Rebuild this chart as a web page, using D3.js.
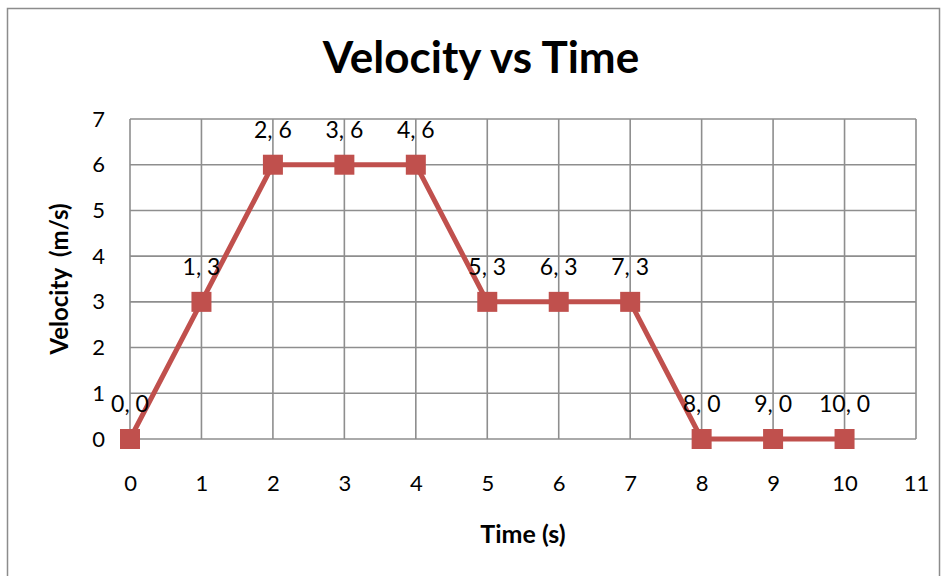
<!DOCTYPE html>
<html>
<head>
<meta charset="utf-8">
<script src="https://cdn.jsdelivr.net/npm/d3@7"></script>
<style>
  body { margin: 0; background: #fff; }
  svg { font-family: Lato, "Open Sans", sans-serif; }
</style>
</head>
<body>
<div id="chart"></div>
<script>
const timeValues = [0, 1, 2, 3, 4, 5, 6, 7, 8, 9, 10];
const velocityValues = [0, 3, 6, 6, 6, 3, 3, 3, 0, 0, 0];
const xTicks = [0, 1, 2, 3, 4, 5, 6, 7, 8, 9, 10, 11];
const yTicks = [0, 1, 2, 3, 4, 5, 6, 7];

const width = 945, height = 576;
const margin = {top: 119, right: 29, bottom: 137, left: 130};
const color = "#c0504d";

const svg = d3.select("#chart").append("svg")
    .attr("width", width)
    .attr("height", height);

// outer chart border
svg.append("rect")
    .attr("x", 7.5).attr("y", 8.5)
    .attr("width", 932).attr("height", 580)
    .attr("fill", "none")
    .attr("stroke", "#8c8c8c")
    .attr("stroke-width", 1.5);

const x = d3.scaleLinear().domain([0, 11]).range([margin.left, width - margin.right]);
const y = d3.scaleLinear().domain([0, 7]).range([height - margin.bottom, margin.top]);

// gridlines
svg.append("g")
    .attr("stroke", "#8e8e8e")
    .attr("stroke-width", 1.6)
  .selectAll("line.v")
  .data(xTicks)
  .join("line")
    .attr("x1", d => x(d)).attr("x2", d => x(d))
    .attr("y1", y(0)).attr("y2", y(7));

svg.append("g")
    .attr("stroke", "#8e8e8e")
    .attr("stroke-width", 1.6)
  .selectAll("line.h")
  .data(yTicks)
  .join("line")
    .attr("x1", x(0)).attr("x2", x(11))
    .attr("y1", d => y(d)).attr("y2", d => y(d));

// axes (tick labels only)
const xAxis = svg.append("g")
    .attr("transform", `translate(0,${y(0)})`)
    .call(d3.axisBottom(x).tickValues(xTicks).tickSize(0).tickPadding(36).tickFormat(d3.format("d")));
const yAxis = svg.append("g")
    .attr("transform", `translate(${x(0) - 25},0)`)
    .call(d3.axisLeft(y).tickValues(yTicks).tickSize(0).tickPadding(0).tickFormat(d3.format("d")));

[xAxis, yAxis].forEach(a => {
  a.select(".domain").remove();
  a.selectAll("text")
      .attr("font-family", "Lato, 'Open Sans', sans-serif")
      .attr("font-size", 22)
      .attr("fill", "#000");
});

// line
const points = timeValues.map((t, i) => ({t, v: velocityValues[i]}));

svg.append("path")
    .datum(points)
    .attr("fill", "none")
    .attr("stroke", color)
    .attr("stroke-width", 5)
    .attr("stroke-linejoin", "round")
    .attr("d", d3.line().x(d => x(d.t)).y(d => y(d.v)));

svg.append("g")
    .attr("fill", color)
  .selectAll("rect")
  .data(points)
  .join("rect")
    .attr("x", d => x(d.t) - 10)
    .attr("y", d => y(d.v) - 10)
    .attr("width", 20)
    .attr("height", 20);

// data labels
svg.append("g")
    .attr("font-size", 23)
    .attr("text-anchor", "middle")
  .selectAll("text")
  .data(points)
  .join("text")
    .attr("x", d => x(d.t))
    .attr("y", d => y(d.v) - 27)
    .text(d => `${d.t}, ${d.v}`);

// titles
svg.append("text")
    .attr("x", 481).attr("y", 73)
    .attr("text-anchor", "middle")
    .attr("font-size", 44)
    .attr("font-weight", "bold")
    .text("Velocity vs Time");

svg.append("text")
    .attr("x", (x(0) + x(11)) / 2).attr("y", 543)
    .attr("text-anchor", "middle")
    .attr("font-size", 25)
    .attr("font-weight", "bold")
    .text("Time (s)");

svg.append("text")
    .attr("transform", `translate(68,${(y(0) + y(7)) / 2}) rotate(-90)`)
    .attr("text-anchor", "middle")
    .attr("font-size", 24)
    .attr("font-weight", "bold")
    .attr("xml:space", "preserve")
    .text("Velocity  (m/s)");
</script>
</body>
</html>
